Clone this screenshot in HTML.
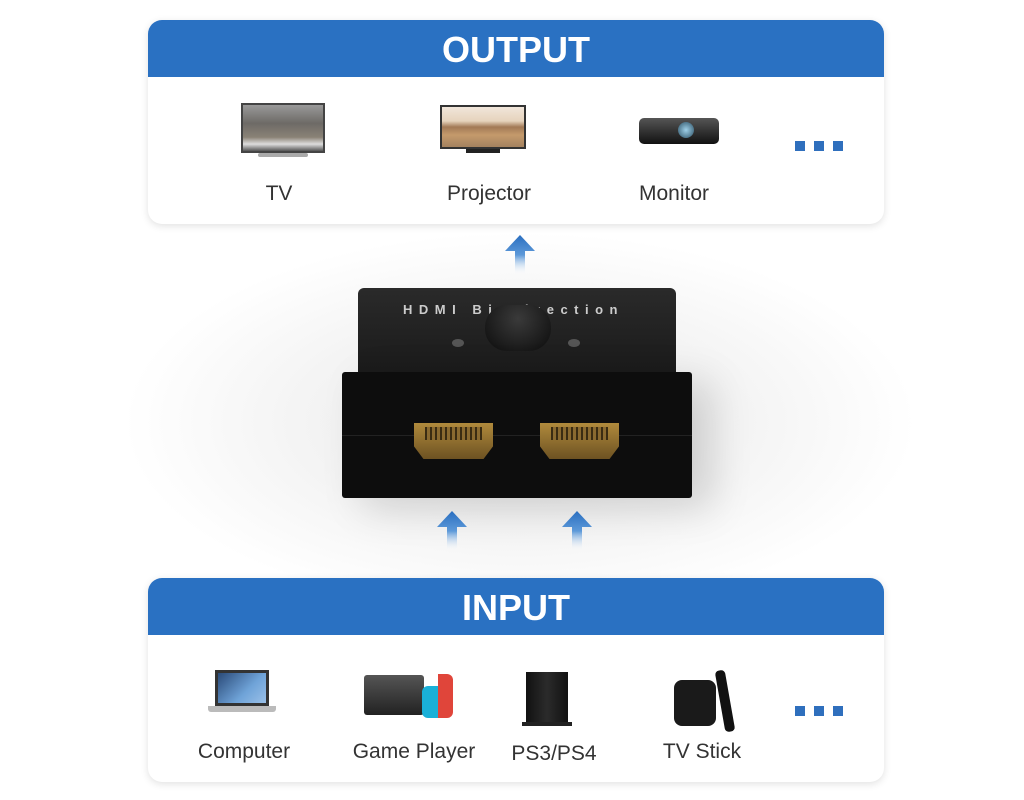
<!DOCTYPE html>
<html><head><meta charset="utf-8"><style>
*{margin:0;padding:0;box-sizing:border-box}
body{width:1024px;height:800px;background:#fff;position:relative;overflow:hidden;font-family:"Liberation Sans",sans-serif}
.a{position:absolute}
.bg{left:120px;top:230px;width:800px;height:350px;background:radial-gradient(ellipse at 50% 55%,#e9e9e9 0%,#f4f4f4 40%,#fff 70%)}
.panel{position:absolute;left:148px;width:736px;height:204px;background:#fff;border-radius:14px;box-shadow:0 2px 8px rgba(0,0,0,.12);overflow:hidden}
.hdr{height:57px;background:#2a71c2;color:#fff;font-weight:bold;font-size:36px;text-align:center;line-height:60px}
.lbl{position:absolute;font-size:21px;color:#333;transform:translateX(-50%);white-space:nowrap}
.dots{position:absolute;display:flex;gap:9px}
.dots i{width:10px;height:10px;background:#2f6fbd;display:block}
.arrow{position:absolute;width:30px;height:40px}
</style></head><body>
<div class="a bg"></div>

<div class="panel" style="top:20px">
 <div class="hdr">OUTPUT</div>
 <div class="a" style="left:93px;top:83px;width:84px;height:50px;background:linear-gradient(#999,#6d6a66 40%,#8a8276 70%,#ddd 85%,#555);border:2px solid #444"></div>
 <div class="a" style="left:110px;top:133px;width:50px;height:4px;background:#aaa;border-radius:2px"></div>
 <div class="a" style="left:292px;top:85px;width:86px;height:44px;background:linear-gradient(#f1e6da 0%,#e6d3bd 35%,#a27956 50%,#c49a6c 70%,#a4825f 100%);border:2px solid #333"></div>
 <div class="a" style="left:318px;top:129px;width:34px;height:4px;background:#222"></div>
 <div class="a" style="left:491px;top:98px;width:80px;height:26px;background:linear-gradient(#555,#111);border-radius:5px"></div>
 <div class="a" style="left:530px;top:102px;width:16px;height:16px;border-radius:50%;background:radial-gradient(#9fd0e8,#2b4f63)"></div>
 <div class="lbl" style="left:131px;top:162px">TV</div>
 <div class="lbl" style="left:341px;top:162px">Projector</div>
 <div class="lbl" style="left:526px;top:162px">Monitor</div>
 <div class="dots" style="left:647px;top:121px"><i></i><i></i><i></i></div>
</div>

<svg class="arrow" style="left:505px;top:235px" viewBox="0 0 30 40"><defs><linearGradient id="g" x1="0" y1="0" x2="0" y2="1"><stop offset="0" stop-color="#2a6fc0"/><stop offset=".5" stop-color="#5d99d9"/><stop offset="1" stop-color="#fff" stop-opacity="0"/></linearGradient></defs><path d="M15 0 L30 16 L20 16 L20 40 L10 40 L10 16 L0 16Z" fill="url(#g)"/></svg>

<div class="a" style="left:358px;top:288px;width:318px;height:88px;background:linear-gradient(#2a2a2a,#1a1a1a);border-radius:6px 6px 0 0"></div>
<div class="a" style="left:403px;top:302px;font-size:13px;font-weight:bold;color:#ccc;letter-spacing:6.5px;white-space:nowrap">HDMI Bi-Direction</div>
<div class="a" style="left:494px;top:316px;font-size:11px;font-weight:bold;color:#aaa;letter-spacing:3px">Switch</div>
<div class="a" style="left:485px;top:305px;width:66px;height:46px;background:radial-gradient(ellipse at 50% 30%,#3a3a3a,#0c0c0c);border-radius:22px"></div>
<div class="a" style="left:452px;top:339px;width:12px;height:8px;border-radius:50%;background:#555"></div>
<div class="a" style="left:568px;top:339px;width:12px;height:8px;border-radius:50%;background:#555"></div>
<div class="a" style="left:342px;top:372px;width:350px;height:126px;background:#0d0d0d;border-radius:3px;box-shadow:20px 10px 40px rgba(0,0,0,.15)"></div>
<div class="a" style="left:342px;top:435px;width:350px;height:1px;background:#222"></div>
<div class="a" style="left:414px;top:423px;width:79px;height:36px;background:linear-gradient(#b08a3c,#6d5222);clip-path:polygon(0 0,100% 0,100% 65%,88% 100%,12% 100%,0 65%)"></div>
<div class="a" style="left:425px;top:427px;width:57px;height:13px;background:repeating-linear-gradient(90deg,#3a2c12 0 2px,#8a6a30 2px 5px)"></div>
<div class="a" style="left:540px;top:423px;width:79px;height:36px;background:linear-gradient(#b08a3c,#6d5222);clip-path:polygon(0 0,100% 0,100% 65%,88% 100%,12% 100%,0 65%)"></div>
<div class="a" style="left:551px;top:427px;width:57px;height:13px;background:repeating-linear-gradient(90deg,#3a2c12 0 2px,#8a6a30 2px 5px)"></div>

<svg class="arrow" style="left:437px;top:511px" viewBox="0 0 30 40"><path d="M15 0 L30 16 L20 16 L20 40 L10 40 L10 16 L0 16Z" fill="url(#g)"/></svg>
<svg class="arrow" style="left:562px;top:511px" viewBox="0 0 30 40"><path d="M15 0 L30 16 L20 16 L20 40 L10 40 L10 16 L0 16Z" fill="url(#g)"/></svg>

<div class="panel" style="top:578px">
 <div class="hdr">INPUT</div>
 <div class="a" style="left:67px;top:92px;width:54px;height:36px;background:linear-gradient(135deg,#2a4a78,#6fa3d8 60%,#9ac0e8);border:3px solid #333"></div>
 <div class="a" style="left:60px;top:128px;width:68px;height:6px;background:#bbb;border-radius:0 0 3px 3px"></div>
 <div class="a" style="left:216px;top:97px;width:60px;height:40px;background:linear-gradient(#555,#222);border-radius:3px"></div>
 <div class="a" style="left:274px;top:108px;width:16px;height:32px;background:#1ab0d8;border-radius:6px 0 0 6px"></div>
 <div class="a" style="left:290px;top:96px;width:15px;height:44px;background:#e0453a;border-radius:0 6px 6px 0"></div>
 <div class="a" style="left:378px;top:94px;width:42px;height:50px;background:linear-gradient(90deg,#111,#2b2b2b,#111)"></div>
 <div class="a" style="left:374px;top:144px;width:50px;height:4px;background:#222"></div>
 <div class="a" style="left:526px;top:102px;width:42px;height:46px;background:#1a1a1a;border-radius:8px"></div>
 <div class="a" style="left:572px;top:92px;width:10px;height:62px;background:#111;border-radius:4px;transform:rotate(-10deg)"></div>
 <div class="lbl" style="left:96px;top:162px">Computer</div>
 <div class="lbl" style="left:266px;top:162px">Game Player</div>
 <div class="lbl" style="left:406px;top:164px">PS3/PS4</div>
 <div class="lbl" style="left:554px;top:162px">TV Stick</div>
 <div class="dots" style="left:647px;top:128px"><i></i><i></i><i></i></div>
</div>
</body></html>
